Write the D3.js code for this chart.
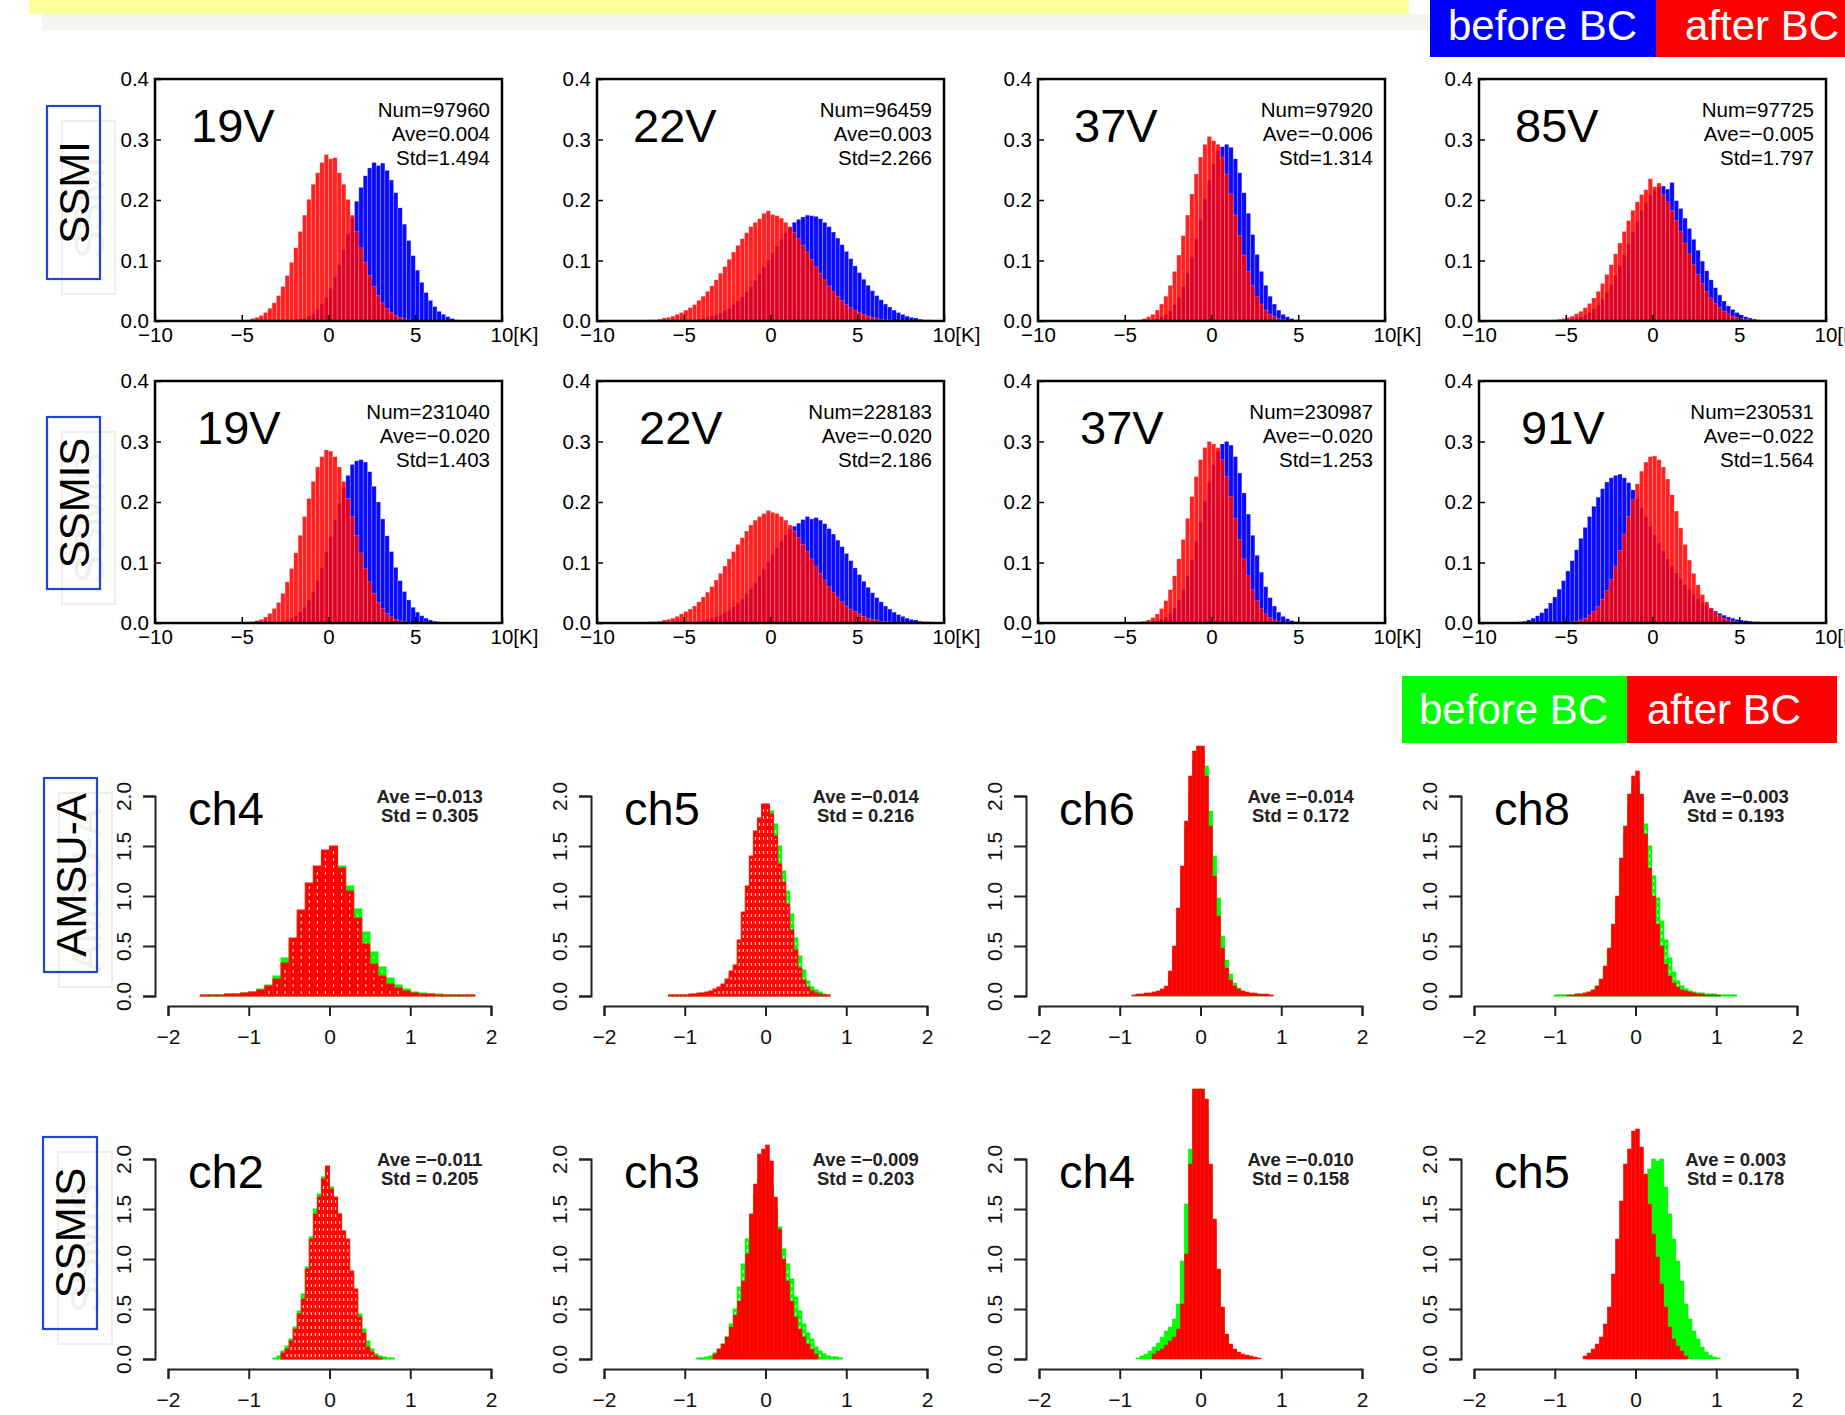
<!DOCTYPE html>
<html>
<head>
<meta charset="utf-8">
<script src="https://cdn.jsdelivr.net/npm/d3@7"></script>
<style>
    body { margin: 0; background: #fff; }
    svg { display: block; font-family: "Liberation Sans", Arial, Helvetica, sans-serif; }
</style>
</head>
<body>
<div id="chart"></div>
<script>

// ---------- top block : SSMI / SSMIS, O-B histograms [K] ----------
var topSensors = ["SSMI", "SSMIS"];
var topChannels = [["19V", "22V", "37V", "85V"], ["19V", "22V", "37V", "91V"]];
var topNum = [[97960, 96459, 97920, 97725], [231040, 228183, 230987, 230531]];
var topAve = [[0.004, 0.003, -0.006, -0.005], [-0.020, -0.020, -0.020, -0.022]];
var topStd = [[1.494, 2.266, 1.314, 1.797], [1.403, 2.186, 1.253, 1.564]];
var topTicksX = [-10, -5, 0, 5, 10];
var topTicksY = [0, 0.1, 0.2, 0.3, 0.4];
var topBin = 0.25;
// first bin edge of each histogram
var topBeforeStart = [[-2.25, -5.25, -3.75, -5.5], [-3.25, -5.25, -3.75, -10]];
var topAfterStart = [[-5.0, -7.5, -4.5, -6.0], [-5.0, -7.5, -4.5, -6.0]];

// densities x1000
var ssmi19vBefore = [1,2,3,5,8,12,19,28,39,54,72,93,118,144,171,198,221,240,253,262,257,261,249,233,212,187,160,133,108,84,64,47,34,24,16,11,7,4,2,1,1,1];
var ssmi19vAfter = [1,2,4,6,9,14,21,30,42,57,75,97,121,148,175,201,226,245,262,275,268,270,245,226,201,175,148,121,97,75,57,42,30,21,14,9,6,4,2,1,1,1];
var ssmi22vBefore = [1,1,1,2,3,4,6,8,10,13,17,21,27,33,40,48,57,67,78,89,101,113,124,135,146,155,163,168,172,175,174,173,169,163,156,147,137,126,115,103,91,80,69,59,50,42,35,28,23,18,14,11,8,6,5,3,2,2,1,1];
var ssmi22vAfter = [1,1,2,2,3,5,6,8,11,14,18,22,27,34,41,49,58,68,79,90,102,114,125,136,146,156,163,169,178,182,176,174,170,163,156,146,136,125,114,102,90,79,68,58,49,41,34,27,22,18,14,11,8,6,5,3,2,2,1,1];
var ssmi37vBefore = [1,2,4,7,11,17,27,39,57,79,105,136,168,202,233,260,281,288,292,287,268,245,212,178,143,110,82,59,41,28,18,11,7,4,2,1,1];
var ssmi37vAfter = [1,2,4,7,11,18,28,41,59,82,109,141,175,210,243,271,292,305,298,292,271,243,210,175,141,109,82,59,41,28,18,11,7,4,2,1];
var ssmi85vBefore = [1,1,2,3,5,7,10,14,20,27,36,47,60,75,91,109,128,147,165,182,196,208,216,221,223,218,229,199,186,170,153,135,117,99,83,68,55,43,33,25,19,14,10,7,5,3,2,1,1,1,1,1,1];
var ssmi85vAfter = [1,2,3,4,6,8,12,16,22,29,38,49,62,77,93,111,129,148,166,183,197,209,217,235,222,228,209,197,183,166,148,129,111,93,77,62,49,38,29,22,16,12,8,6,4,3,2,1];
var ssmis19vBefore = [1,2,3,5,8,12,18,26,38,52,70,91,117,143,171,198,224,244,262,268,270,266,250,226,200,172,144,118,92,70,52,38,26,18,12,8,5,3,2,1,1,1];
var ssmis19vAfter = [1,1,2,4,6,10,16,24,34,49,68,90,116,145,176,206,234,258,275,286,284,275,258,234,206,176,145,116,90,68,49,34,24,16,10,6,4,2,1,1];
var ssmis22vBefore = [1,1,1,2,3,4,6,8,10,13,17,21,27,33,40,48,57,67,78,89,101,113,124,135,146,155,160,165,171,176,172,174,170,164,156,147,137,126,115,103,91,80,69,59,50,42,35,28,23,18,14,11,8,6,5,3,2,2,1,1];
var ssmis22vAfter = [1,1,2,2,3,5,6,8,11,15,19,23,28,35,43,51,60,71,82,94,106,118,130,141,152,162,170,176,181,186,183,181,176,170,162,152,141,130,118,106,94,82,71,60,51,43,35,28,23,19,15,11,8,6,5,3,2,2,1,1];
var ssmis37vBefore = [1,2,3,6,10,16,25,38,56,78,104,135,167,201,233,262,284,296,300,294,275,248,215,180,145,112,84,60,42,28,18,11,7,4,2,1,1];
var ssmis37vAfter = [1,1,3,5,9,15,24,37,55,78,106,138,173,209,242,270,290,300,296,290,270,242,209,173,138,106,78,55,37,24,15,9,5,3,1,1];
var ssmis91vBefore = [1,1,1,1,1,1,1,1,1,2,3,5,8,12,17,24,33,43,56,70,86,103,121,140,158,176,193,208,222,233,240,244,246,240,232,220,205,190,175,160,146,132,119,106,94,83,73,63,55,47,40,34,29,24,20,16,13,10,8,6,5,4,3,2,2,1,1];
var ssmis91vAfter = [1,1,1,1,1,2,3,5,8,13,19,27,39,54,72,94,120,147,176,204,230,251,266,275,276,270,258,238,212,185,157,130,104,82,63,47,35,25,18,12,8,5,3,2,1,1,1,1,1,1];

var topBefore = [[ssmi19vBefore, ssmi22vBefore, ssmi37vBefore, ssmi85vBefore], [ssmis19vBefore, ssmis22vBefore, ssmis37vBefore, ssmis91vBefore]];
var topAfter = [[ssmi19vAfter, ssmi22vAfter, ssmi37vAfter, ssmi85vAfter], [ssmis19vAfter, ssmis22vAfter, ssmis37vAfter, ssmis91vAfter]];

// ---------- bottom block : AMSU-A / SSMIS, O-B histograms ----------
var botSensors = ["AMSU-A", "SSMIS"];
var botChannels = [["ch4", "ch5", "ch6", "ch8"], ["ch2", "ch3", "ch4", "ch5"]];
var botAve = [[-0.013, -0.014, -0.014, -0.003], [-0.011, -0.009, -0.010, 0.003]];
var botStd = [[0.305, 0.216, 0.172, 0.193], [0.205, 0.203, 0.158, 0.178]];
var botTicksX = [-2, -1, 0, 1, 2];
var botTicksY = [0, 0.5, 1, 1.5, 2];
var botBin = [[0.1, 0.05, 0.05, 0.05], [0.05, 0.05, 0.05, 0.05]];
var botBeforeStart = [[-1.6, -1.2, -0.85, -1.0], [-0.7, -0.85, -0.8, -0.6]];
var botAfterStart = [[-1.6, -1.2, -0.85, -0.85], [-0.6, -0.65, -0.6, -0.65]];

// densities x100
var amsu4Before = [1,1,1,2,2,3,4,7,11,20,38,55,80,105,128,140,142,130,110,87,64,44,29,18,11,7,4,3,2,2,1,1,1,1];
var amsu4After = [1,1,1,2,2,3,4,6,10,17,33,58,86,113,130,146,150,128,105,78,52,32,20,12,8,5,3,2,2,1,1,1,1,1];
var amsu5Before = [1,1,1,1,1,1,2,2,3,3,4,6,8,11,16,23,30,52,80,106,136,160,174,186,188,185,172,150,125,105,82,58,40,26,15,9,6,4,2,1];
var amsu5After = [1,1,1,1,1,2,2,3,3,4,5,7,9,12,17,25,31,56,84,110,140,165,178,192,192,182,160,132,114,92,66,46,28,16,9,5,3,2,1,1];
var amsu6Before = [1,1,2,2,3,4,5,7,9,22,46,82,124,168,205,235,245,245,230,185,140,98,60,36,22,13,8,5,4,3,2,2,1,1,1];
var amsu6After = [1,2,2,3,3,4,5,7,10,25,50,88,130,175,220,245,250,250,220,170,120,80,48,28,16,10,7,5,4,3,3,2,2,2,1];
var amsu8Before = [1,1,1,1,1,2,2,3,4,6,10,16,28,45,68,95,130,162,190,210,215,198,172,150,120,98,75,56,38,24,15,10,7,5,4,3,3,2,2,2,1,1,1,1,1];
var amsu8After = [1,1,2,2,3,4,6,10,17,30,48,72,100,138,170,202,220,225,202,162,128,100,72,50,32,20,13,9,6,5,4,3,2,2,1,1,1,1];
var ssmis2Before = [1,3,8,13,20,32,48,65,92,122,150,165,182,180,172,160,145,128,112,85,65,45,30,18,10,5,3,2,1,1];
var ssmis2After = [6,10,18,30,45,60,90,120,145,162,180,193,170,162,145,128,120,88,70,42,26,12,7,3,1];
var ssmis3Before = [1,1,2,3,6,10,15,22,35,50,72,95,120,145,165,180,190,188,172,150,132,110,95,80,62,48,35,26,20,12,8,5,3,2,2,1];
var ssmis3After = [5,10,15,22,32,44,58,78,105,145,175,205,210,214,198,162,130,100,78,58,42,30,22,15,10,5];
var ssmis4Before = [1,3,5,8,12,16,22,28,32,40,55,98,155,210,270,270,270,250,185,130,85,48,23,13,8,5,3,2,1];
var ssmis4After = [5,8,10,14,18,22,30,55,105,195,270,270,270,260,195,140,90,52,25,15,10,7,5,4,3,2,1];
var ssmis5Before = [2,4,6,10,15,22,30,42,58,78,100,122,145,162,180,190,200,198,200,172,145,120,98,78,55,40,28,20,12,7,4,2,1];
var ssmis5After = [3,6,10,15,22,35,52,85,120,158,195,210,228,230,212,185,155,125,102,75,52,32,20,13,8,3];

var botBefore = [[amsu4Before, amsu5Before, amsu6Before, amsu8Before], [ssmis2Before, ssmis3Before, ssmis4Before, ssmis5Before]];
var botAfter = [[amsu4After, amsu5After, amsu6After, amsu8After], [ssmis2After, ssmis3After, ssmis4After, ssmis5After]];

// ---------- layout ----------
var W = 1845, H = 1415;
var topX0 = [155, 597, 1038, 1479], topW = 347, topY0 = [79, 381], topH = 242;
var topTitleDx = [36, 42];
var botX0 = [168, 604, 1039, 1474], botW = 323, botBase = [996, 1359];
var botHatchRed = [[true, true, false, false], [true, false, false, false]];
var botHatchGreen = [[true, true, false, true], [true, true, false, false]];

var fmt3 = d3.format(".3f");

var svg = d3.select("#chart").append("svg")
    .attr("width", W)
    .attr("height", H);

// slide header remains
svg.append("rect").attr("x", 29).attr("y", 0).attr("width", 1380).attr("height", 14).attr("fill", "#ffff9c");
svg.append("rect").attr("x", 42).attr("y", 14).attr("width", 1388).attr("height", 16).attr("fill", "#f5f5f0");

function sideLabel(text, x, y, w, h) {
    // faint shadow copy, then the real boxed label
    svg.append("rect").attr("x", x + 15).attr("y", y + 15).attr("width", w).attr("height", h)
        .attr("fill", "none").attr("stroke", "#efefe7").attr("stroke-width", 2);
    svg.append("text")
        .attr("transform", "translate(" + (x + 15 + w / 2) + "," + (y + 15 + h / 2) + ") rotate(-90)")
        .attr("text-anchor", "middle").attr("dy", "0.36em")
        .style("font-size", "42px").attr("fill", "#f1f1ea").text(text);
    svg.append("rect").attr("x", x).attr("y", y).attr("width", w).attr("height", h)
        .attr("fill", "none").attr("stroke", "#1f44d8").attr("stroke-width", 2.2);
    svg.append("text")
        .attr("transform", "translate(" + (x + w / 2) + "," + (y + h / 2) + ") rotate(-90)")
        .attr("text-anchor", "middle").attr("dy", "0.36em")
        .style("font-size", "42px").attr("fill", "#000").text(text);
}

function legend(x, y, w1, w2, h, col1, col2, tx1, tx2, base) {
    svg.append("rect").attr("x", x).attr("y", y).attr("width", w1).attr("height", h).attr("fill", col1);
    svg.append("rect").attr("x", x + w1).attr("y", y).attr("width", w2).attr("height", h).attr("fill", col2);
    svg.append("text").attr("x", tx1).attr("y", base).attr("fill", "#fff").style("font-size", "42px").text("before BC");
    svg.append("text").attr("x", tx2).attr("y", base).attr("fill", "#fff").style("font-size", "42px").text("after BC");
}

function drawHist(g, start, w, vals, scale, x, y, st) {
    var bins = vals.map(function (v, i) {
        return { x0: start + i * w, x1: start + (i + 1) * w, v: v / scale };
    });
    g.selectAll(null).data(bins).enter().append("rect")
        .attr("x", function (d) { return x(d.x0); })
        .attr("width", function (d) { return x(d.x1) - x(d.x0); })
        .attr("y", function (d) { return y(d.v); })
        .attr("height", function (d) { return y(0) - y(d.v); })
        .attr("fill", st.fill)
        .attr("fill-opacity", st.opacity || 1)
        .attr("stroke", st.stroke)
        .attr("stroke-width", st.sw);
    if (st.hatch) {
        g.selectAll(null).data(bins.filter(function (d) { return y(0) - y(d.v) > 6; })).enter().append("line")
            .attr("x1", function (d) { return (x(d.x0) + x(d.x1)) / 2; })
            .attr("x2", function (d) { return (x(d.x0) + x(d.x1)) / 2; })
            .attr("y1", function (d) { return y(0) - 2; })
            .attr("y2", function (d) { return y(d.v) + 3; })
            .attr("stroke", "#fff").attr("stroke-width", 1.2)
            .attr("stroke-dasharray", "3,4").attr("stroke-opacity", 0.8);
    }
}

// ---------- top panels ----------
legend(1430, 0, 226, 189, 57, "#0000ff", "#ff0000", 1448, 1685, 40);
sideLabel("SSMI", 47, 106, 53, 173);
sideLabel("SSMIS", 47, 417, 53, 172);

topSensors.forEach(function (sensor, r) {
    topChannels[r].forEach(function (ch, c) {
        var x0 = topX0[c], y0 = topY0[r];
        var x = d3.scaleLinear().domain([-10, 10]).range([x0, x0 + topW]);
        var y = d3.scaleLinear().domain([0, 0.4]).range([y0 + topH, y0]);
        var g = svg.append("g");

        drawHist(g, topBeforeStart[r][c], topBin, topBefore[r][c], 1000, x, y,
            { fill: "#0a0aff", stroke: "rgba(255,255,255,0.35)", sw: 0.6 });
        drawHist(g, topAfterStart[r][c], topBin, topAfter[r][c], 1000, x, y,
            { fill: "#ff0000", opacity: 0.87, stroke: "rgba(255,255,255,0.35)", sw: 0.6 });

        var ax = g.append("g")
            .attr("transform", "translate(0," + (y0 + topH) + ")")
            .call(d3.axisBottom(x).tickValues(topTicksX).tickSizeInner(-6).tickSizeOuter(0).tickPadding(6)
                .tickFormat(function (d) { return d === 10 ? "10[K]" : d3.format("d")(d); }));
        ax.selectAll("text").filter(function (d) { return d === 10; })
            .attr("text-anchor", "start").attr("x", -12);
        var ay = g.append("g")
            .attr("transform", "translate(" + x0 + ",0)")
            .call(d3.axisLeft(y).tickValues(topTicksY).tickSizeInner(-6).tickSizeOuter(0).tickPadding(6)
                .tickFormat(d3.format(".1f")));
        [ax, ay].forEach(function (a) {
            a.select(".domain").remove();
            a.selectAll("line").attr("stroke", "#000").attr("stroke-width", 1.5);
            a.selectAll("text").style("font-size", "20.5px").attr("fill", "#000")
                .style("font-family", "'Liberation Sans', Arial, sans-serif");
        });

        g.append("rect").attr("x", x0).attr("y", y0).attr("width", topW).attr("height", topH)
            .attr("fill", "none").attr("stroke", "#000").attr("stroke-width", 2.5);

        g.append("text").attr("x", x0 + topTitleDx[r]).attr("y", y0 + 63)
            .style("font-size", "47px").text(ch);

        var stats = ["Num=" + topNum[r][c], "Ave=" + fmt3(topAve[r][c]), "Std=" + fmt3(topStd[r][c])];
        g.selectAll(null).data(stats).enter().append("text")
            .attr("x", x0 + topW - 12)
            .attr("y", function (d, i) { return y0 + 38 + i * 24; })
            .attr("text-anchor", "end")
            .style("font-size", "20.5px")
            .text(function (d) { return d; });
    });
});

// ---------- bottom panels ----------
legend(1402, 676, 225, 210, 67, "#00ff00", "#ff0000", 1419, 1647, 724);
sideLabel("AMSU-A", 44, 778, 53, 194);
sideLabel("SSMIS", 43, 1137, 54, 192);

botSensors.forEach(function (sensor, r) {
    botChannels[r].forEach(function (ch, c) {
        var bx = botX0[c], by = botBase[r];
        var x = d3.scaleLinear().domain([-2, 2]).range([bx, bx + botW]);
        var y = d3.scaleLinear().domain([0, 2]).range([by, by - 200]);
        var g = svg.append("g");

        drawHist(g, botBeforeStart[r][c], botBin[r][c], botBefore[r][c], 100, x, y,
            { fill: "#00ff00", stroke: "#00f000", sw: botHatchGreen[r][c] ? 1 : 0.5, hatch: botHatchGreen[r][c] });
        drawHist(g, botAfterStart[r][c], botBin[r][c], botAfter[r][c], 100, x, y,
            { fill: "#ff0000", stroke: "#ff1010", sw: botHatchRed[r][c] ? 1 : 0.5, hatch: botHatchRed[r][c] });

        var ay = g.append("g")
            .attr("transform", "translate(" + (bx - 13) + ",0)")
            .call(d3.axisLeft(y).tickValues(botTicksY).tickSize(12).tickFormat(d3.format(".1f")));
        ay.selectAll("text")
            .attr("x", 0).attr("y", -32).attr("dy", "0.36em")
            .attr("text-anchor", "middle")
            .attr("transform", "rotate(-90)");
        var ax = g.append("g")
            .attr("transform", "translate(0," + (by + 10) + ")")
            .call(d3.axisBottom(x).tickValues(botTicksX).tickSize(10).tickPadding(13).tickFormat(d3.format("d")));
        [ax, ay].forEach(function (a) {
            a.selectAll("path, line").attr("stroke", "#222").attr("stroke-width", 2);
            a.selectAll("text").style("font-size", "21px").attr("fill", "#111")
                .style("font-family", "'Liberation Sans', Arial, sans-serif");
        });

        g.append("text").attr("x", bx + 20).attr("y", y(2) + 29)
            .style("font-size", "47px").text(ch);

        var ave = botAve[r][c];
        var stats = ["Ave =" + (ave < 0 ? "" : " ") + fmt3(ave), "Std = " + fmt3(botStd[r][c])];
        g.selectAll(null).data(stats).enter().append("text")
            .attr("x", x(1.24))
            .attr("y", function (d, i) { return y(2) + 7 + i * 19; })
            .attr("text-anchor", "middle")
            .style("font-size", "18.5px")
            .style("font-weight", "bold")
            .attr("fill", "#222")
            .text(function (d) { return d; });
    });
});
</script>
</body>
</html>
